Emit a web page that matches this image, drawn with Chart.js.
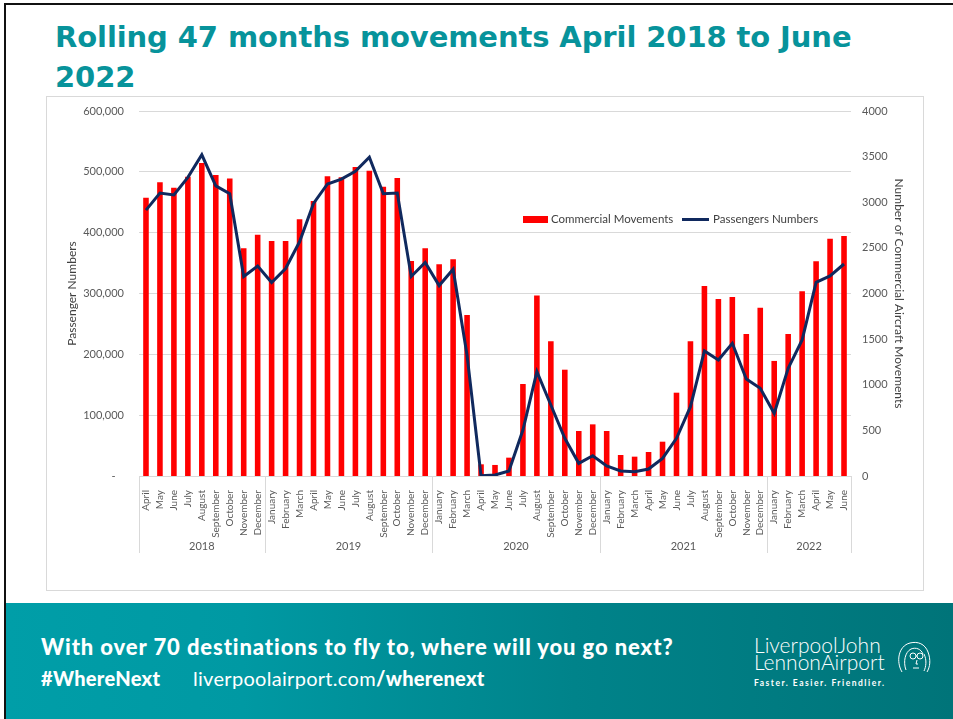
<!DOCTYPE html>
<html>
<head>
<meta charset="utf-8">
<script src="https://cdn.jsdelivr.net/npm/chart.js@4.4.1/dist/chart.umd.min.js"></script>
<style>
  html, body { margin: 0; padding: 0; background: #fff; }
  body { width: 953px; height: 719px; position: relative; overflow: hidden; font-family: Lato, "Open Sans", sans-serif; }
  #frameTop { position: absolute; left: 4px; top: 3px; width: 949px; height: 2px; background: #111; }
  #frameLeft { position: absolute; left: 4px; top: 3px; width: 2px; height: 716px; background: #111; }
  #title { position: absolute; left: 55px; top: 17px; margin: 0; font-family: "DejaVu Sans", sans-serif;
           font-size: 29px; line-height: 40px; font-weight: 700; letter-spacing: -0.1px;
           color: #07939b; white-space: nowrap; }
  #box { position: absolute; left: 46px; top: 96px; width: 876px; height: 493px; border: 1px solid #d9d9d9; }
  #box canvas { position: absolute; left: 0; top: 0; }
  .legend { position: absolute; font-size: 11.5px; color: #404040; line-height: 14px; white-space: nowrap; }
  #footer { position: absolute; left: 6px; top: 603px; width: 947px; height: 116px;
            background: linear-gradient(90deg, #009ea8 0%, #0099a3 25%, #00838a 60%, #007479 100%); color: #fff; }
  #footer .l1 { position: absolute; left: 35px; top: 30px; font-size: 22px; font-weight: 900; letter-spacing: 0.9px; white-space: nowrap; }
  #footer .l2 { position: absolute; left: 35px; top: 63px; font-size: 20px; letter-spacing: 0.3px; white-space: nowrap; }
  #footer .l2 b { font-weight: 900; }
  #footer .l2 .url { position: absolute; left: 152px; top: 0; font-weight: 400; }
  #logo { position: absolute; left: 748px; top: 33px; color: #fff; }
  #logo .n { font-size: 21px; font-weight: 300; line-height: 17px; white-space: nowrap; }
  #logo .t { font-size: 8.5px; font-weight: 700; letter-spacing: 1.5px; margin-top: 8px; white-space: nowrap; }
  #logo svg { position: absolute; left: 140px; top: 4px; }
</style>
</head>
<body>
<div id="frameTop"></div>
<div id="frameLeft"></div>
<h1 id="title">Rolling 47 months movements April 2018 to June<br>2022</h1>

<div id="box">
  <canvas id="chart" width="876" height="493"></canvas>
  <div class="legend" style="left:476px;top:119px;width:25px;height:7px;background:#ff0000;"></div>
  <div class="legend" style="left:504px;top:115px;">Commercial Movements</div>
  <div class="legend" style="left:635px;top:121px;width:27px;height:3px;background:#10295e;"></div>
  <div class="legend" style="left:666px;top:115px;">Passengers Numbers</div>
</div>

<div id="footer">
  <div class="l1">With over 70 destinations to fly to, where will you go next?</div>
  <div class="l2"><b>#WhereNext</b><span class="url">liverpoolairport.com<b>/wherenext</b></span></div>
  <div id="logo">
    <div class="n">LiverpoolJohn<br>LennonAirport</div>
    <div class="t">Faster. Easier. Friendlier.</div>
    <svg width="40" height="34" viewBox="0 0 40 34" fill="none" stroke="#fff" stroke-width="1">
      <path d="M8 32 C2 22 4 6 16 3 C24 1 31 4 34 12 C37 20 36 27 33 32" />
      <path d="M12 30 C9 22 11 12 17 9 C22 7 27 9 29 14" />
      <circle cx="19" cy="16" r="3" />
      <circle cx="26" cy="16" r="3" />
      <path d="M22 16 L23 16 M23 20 L22 24 L24 24 M19 28 L25 28" />
      <path d="M30 14 C33 20 32 27 30 31" />
    </svg>
  </div>
</div>

<script>
// categories
const months = [
  "April", "May", "June", "July", "August", "September", "October", "November", "December",
  "January", "February", "March", "April", "May", "June", "July", "August", "September", "October", "November", "December",
  "January", "February", "March", "April", "May", "June", "July", "August", "September", "October", "November", "December",
  "January", "February", "March", "April", "May", "June", "July", "August", "September", "October", "November", "December",
  "January", "February", "March", "April", "May", "June"
];
const years = ["2018", "2019", "2020", "2021", "2022"];
const monthsPerYear = [9, 12, 12, 12, 6];

// series (movements on right axis, passengers on left axis)
const movements = [
  3050, 3220, 3160, 3280, 3430, 3300, 3260, 2495, 2645,
  2575, 2575, 2815, 3015, 3285, 3275, 3385, 3345, 3170, 3265, 2355, 2495,
  2320, 2375, 1765, 128, 121, 201, 1008, 1977, 1476, 1165, 493, 566,
  493, 230, 212, 263, 376, 913, 1476, 2083, 1940, 1962, 1556, 1845,
  1261, 1556, 2024, 2353, 2601, 2631
];
const passengers = [
  437000, 465000, 462000, 491000, 528000, 477000, 464000, 328000, 345000,
  318000, 341000, 385000, 448000, 480000, 488000, 501000, 524000, 464000, 465000, 328000, 351000,
  313000, 340000, 198000, 500, 1600, 8200, 75600, 171500, 116700, 61900, 20800, 33400,
  16400, 8200, 7100, 11500, 29000, 61900, 114000, 205500, 190700, 218100, 159500, 144100,
  103000, 177000, 223600, 318400, 328800, 348500
];

const tickColor = "#595959";
const gridColor = "#d9d9d9";

// year row under the month labels, with separators like Excel's grouped axis
const yearGroups = {
  id: "yearGroups",
  afterDraw(chart) {
    const xs = chart.scales.x;
    const area = chart.chartArea;
    const ctx = chart.ctx;
    const step = xs.getPixelForValue(1) - xs.getPixelForValue(0);
    let start = 0;
    ctx.save();
    ctx.strokeStyle = gridColor;
    ctx.lineWidth = 1;
    ctx.fillStyle = tickColor;
    ctx.font = "11px Lato, sans-serif";
    ctx.textAlign = "center";
    ctx.textBaseline = "middle";
    const edge = (i) => Math.round(xs.getPixelForValue(i) - step / 2) + 0.5;
    ctx.beginPath();
    ctx.moveTo(edge(0), area.bottom);
    ctx.lineTo(edge(0), area.bottom + 77);
    ctx.stroke();
    years.forEach((y, k) => {
      const end = start + monthsPerYear[k];
      const x1 = edge(end);
      ctx.beginPath();
      ctx.moveTo(x1, area.bottom);
      ctx.lineTo(x1, area.bottom + 77);
      ctx.stroke();
      const mid = (xs.getPixelForValue(start) + xs.getPixelForValue(end - 1)) / 2;
      ctx.fillText(y, mid, area.bottom + 70);
      start = end;
    });
    ctx.restore();
  }
};

// keep the plot box where Excel put it: no extra room for tick overhang
const noOverhang = (s) => { s.paddingTop = 0; s.paddingBottom = 0; };

new Chart(document.getElementById("chart"), {
  type: "bar",
  data: {
    labels: months,
    datasets: [
      {
        type: "line",
        label: "Passengers Numbers",
        data: passengers,
        yAxisID: "y",
        borderColor: "#10295e",
        borderWidth: 3,
        pointRadius: 0,
        tension: 0,
        fill: false,
        order: 0,
      },
      {
        type: "bar",
        label: "Commercial Movements",
        data: movements,
        yAxisID: "y1",
        backgroundColor: "#ff0000",
        categoryPercentage: 1,
        barPercentage: 0.4,
        order: 1,
      },
    ],
  },
  options: {
    responsive: false,
    animation: false,
    layout: { padding: { top: 14, left: 0, right: 0, bottom: 0 } },
    plugins: {
      legend: { display: false },
      tooltip: { enabled: false },
    },
    scales: {
      x: {
        grid: { display: false },
        border: { display: false },
        ticks: {
          autoSkip: false,
          maxRotation: 90,
          minRotation: 90,
          padding: 6,
          color: tickColor,
          font: { family: "Lato", size: 10 },
        },
        afterFit: (s) => { s.height = 114; },
      },
      y: {
        position: "left",
        min: 0,
        max: 600000,
        grid: { color: gridColor, drawTicks: false },
        border: { display: false },
        ticks: {
          stepSize: 100000,
          padding: 15,
          color: tickColor,
          font: { family: "Lato", size: 11 },
          callback: (v) => (v === 0 ? "-   " : v.toLocaleString("en-US")),
        },
        title: {
          display: true,
          text: "Passenger Numbers",
          color: "#404040",
          font: { family: "Lato", size: 12 },
          padding: { top: 18, bottom: 0 },
        },
        afterFit: (s) => { s.width = 92; noOverhang(s); },
      },
      y1: {
        position: "right",
        min: 0,
        max: 4000,
        grid: { display: false, drawTicks: false },
        border: { display: false },
        ticks: {
          stepSize: 500,
          padding: 11,
          color: tickColor,
          font: { family: "Lato", size: 11 },
          callback: (v) => String(v),
        },
        title: {
          display: true,
          text: "Number of Commercial Aircraft Movements",
          color: "#404040",
          font: { family: "Lato", size: 12 },
          padding: { top: 17, bottom: 0 },
        },
        afterFit: (s) => { s.width = 72; noOverhang(s); },
      },
    },
  },
  plugins: [yearGroups],
});
</script>
</body>
</html>
